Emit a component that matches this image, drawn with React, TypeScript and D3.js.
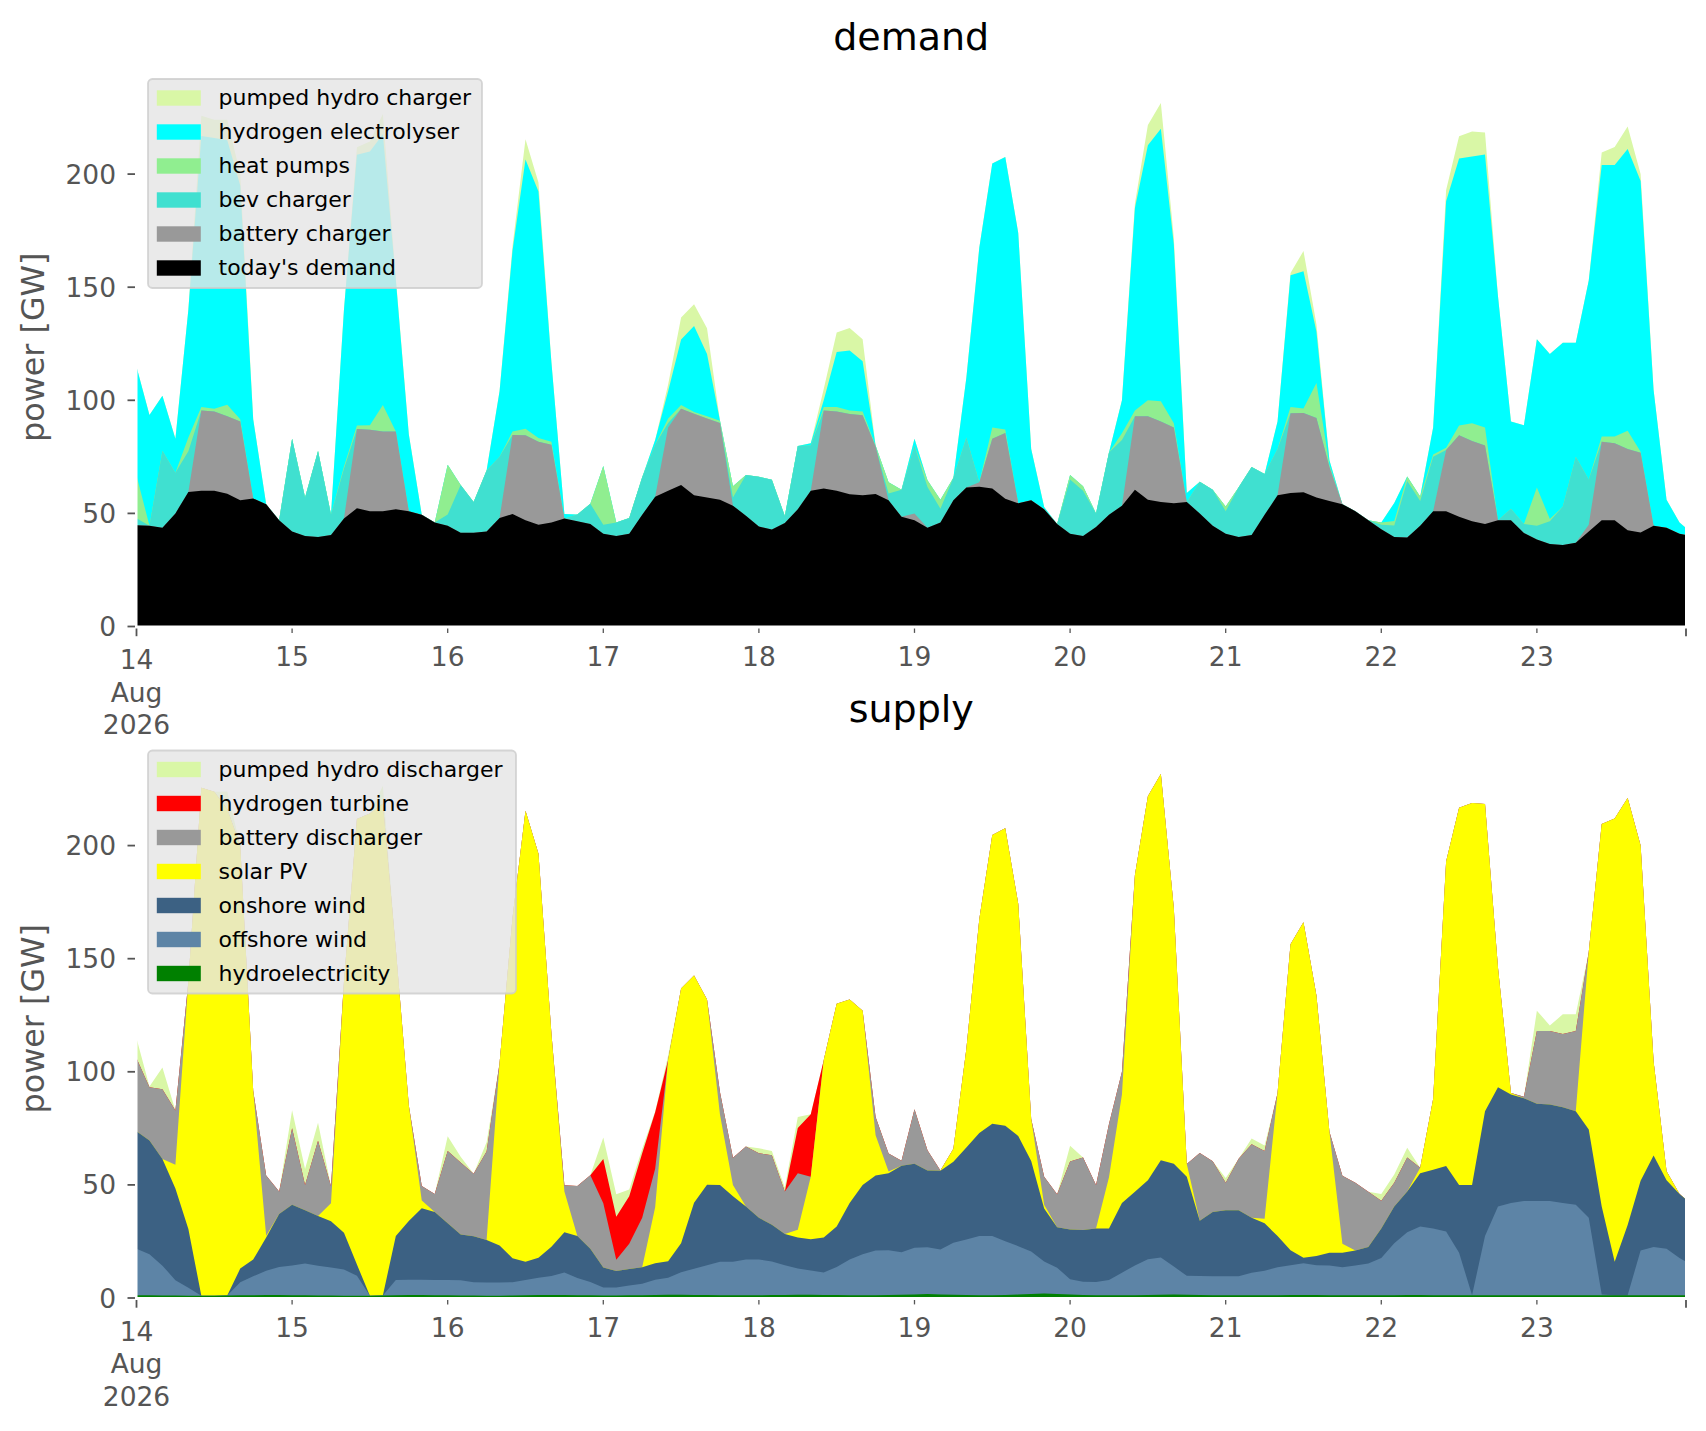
import React from 'react';
import * as d3 from 'd3';

// hourly time axis, read every 2 hours (plus the last hour)
const HOURS = [...d3.range(0, 240, 2), 239];
const DAY_TICKS = d3.range(0, 240, 24);
const DAY_LABELS = ['14', '15', '16', '17', '18', '19', '20', '21', '22', '23'];
const FIRST_TICK_EXTRA = ['Aug', '2026'];
const END_HOUR = 239;
const Y_TICKS = [0, 50, 100, 150, 200];

// ---- demand (GW) ----
const todaysDemand = [
  44.8, 44.5, 43.7, 50, 59.5, 60, 60, 58.7, 55.8, 56.6,
  54, 47, 42, 40, 39.6, 40.5, 47.7, 52.3, 51, 51,
  51.8, 51, 49.4, 46, 44.5, 41.5, 41.5, 42, 48, 49.7,
  47, 45, 46, 47.7, 46.5, 45.3, 41, 40, 41, 49.4,
  57.4, 60, 62.6, 58, 57, 56, 53.4, 49, 44.2, 42.9,
  45.8, 51.8, 60, 61, 60, 58.5, 58, 58.6, 55.8, 48.5,
  47, 43.7, 46, 55.8, 61.5, 61.8, 61, 56.5, 54.5, 55.8,
  51.8, 45.3, 41, 40, 44, 49.4, 53.4, 60.5, 56, 55,
  54.5, 55, 50, 44.5, 41, 39.6, 40.5, 49.4, 58, 59,
  59.4, 57, 55.5, 54, 51, 47, 43, 39.6, 39.3, 44.5,
  51, 51, 48.5, 46.5, 45.3, 47, 47, 41.3, 38.5, 36.5,
  36, 37, 42, 47, 47, 42.5, 41.6, 44.5, 43.7, 41,
  40.5,
];
const batteryCharger = [
  0, 0, 0, 0, 0, 35.5, 35, 34.3, 34.8, 0,
  0, 0, 0, 0, 0, 0, 0, 35, 36, 35.2,
  34.4, 0, 0, 0, 0, 0, 0, 0, 0, 35,
  37.6, 36.7, 34.4, 0, 0, 0, 0, 0, 0, 0,
  0, 28, 33.7, 36, 35, 34, 0, 0, 0, 0,
  0, 0, 0, 34.5, 35, 35.4, 35.4, 21, 0, 0,
  3, 0, 0, 0, 0, 2, 22, 29, 0, 0,
  0, 0, 0, 0, 0, 0, 0, 32.5, 37, 35.6,
  33.5, 0, 0, 0, 0, 0, 0, 0, 0, 35.3,
  35, 35.2, 15, 0, 0, 0, 0, 0, 0, 0,
  0, 27, 36, 35.5, 34.7, 0, 0, 0, 0, 0,
  0, 0, 3, 34.7, 34, 36, 35.2, 0, 0, 0,
  0,
];
const bevCharger = [
  3, 0, 34, 18, 18, 0, 0, 0, 0, 0,
  0, 0, 41, 17, 38, 9, 22, 0, 0, 0,
  0, 0, 0, 0, 5, 21, 13.5, 27, 27, 0,
  0, 0, 0, 0, 3, 9, 4, 6, 7, 16.6,
  23, 2, 0, 0, 0, 0, 3.6, 18, 22, 22,
  3, 28, 20, 0, 0, 0, 0, 0, 3, 12,
  30, 18, 6, 10, 22, 0, 0, 0, 0, 0,
  0, 0, 24, 20, 6, 27.5, 29, 0, 0, 0,
  0, 0, 14, 16, 10, 22, 30, 18, 20.5, 0,
  0, 0, 0, 0, 0, 0, 2, 5, 25, 11,
  24, 0, 0, 0, 0, 0, 5, 4, 6, 10,
  17, 38, 20, 0, 0, 0, 0, 0, 0, 0,
  0,
];
const heatPumps = [
  19, 0, 0, 0, 6, 1.5, 1.3, 5, 1, 0,
  0, 0, 0, 0, 0, 0, 1, 1.6, 2, 11.7,
  0, 0, 0, 0, 22, 0, 0, 0, 0, 1.5,
  2.8, 1.6, 1.3, 0, 0, 0, 26, 0, 0, 0,
  0, 2, 1.6, 0.8, 1, 1, 5, 0, 0, 0,
  0, 0, 0, 1.5, 2, 1.6, 1.6, 0.4, 5, 0,
  0, 3, 4, 0, 0, 0, 5, 1.6, 0, 0,
  0, 0, 2, 2, 0, 0, 3, 2.5, 7, 9,
  1.8, 0, 0, 0, 2, 0, 0, 0, 0, 2.7,
  2, 15.4, 1, 0, 0, 0, 1, 2, 2, 2,
  1, 1, 4.4, 7.8, 8, 0, 0, 0, 17, 1,
  0, 0, 0, 2.3, 3, 8, 0.5, 0, 0, 0,
  0,
];
const hydrogenElectrolyser = [
  48, 49, 24.3, 15, 56.5, 119.8, 119.7, 117, 103.4, 35,
  0, 0, 0, 0, 0, 0, 69.3, 119.7, 121, 119.7,
  67, 34, 0, 0, 0, 0, 0, 0, 29, 80,
  119, 109, 35, 2, 0, 0, 0, 0, 0, 0,
  2, 12, 29, 38, 27.5, 0, 0, 0, 0, 0,
  0, 0, 1, 3, 24.4, 26.5, 22.3, 0, 0, 0,
  3, 0, 0, 0, 26.5, 103.7, 116.7, 120.5, 119.5, 22.7,
  1, 0, 0, 0, 0, 0, 14.6, 89.5, 112.7, 120.4,
  79.2, 4, 0, 0, 0, 0, 0, 0, 12.1, 58.3,
  60.7, 22.7, 2, 0, 0, 0, 0, 8, 0, 0,
  12, 109, 118, 118, 120.7, 99, 38.6, 43.7, 65.5, 73,
  72.4, 50.4, 88, 120, 120, 124.6, 119.7, 60, 12.3, 5,
  3,
];
const pumpedHydroCharger = [
  0, 0, 0, 0, 0, 9, 8, 9, 5, 0,
  0, 0, 0, 0, 0, 0, 0, 3.3, 4.4, 9,
  1, 0, 0, 0, 0, 0, 0, 0, 0, 2,
  9, 4, 0, 0, 0, 0, 0, 0, 0, 0,
  0, 3, 9.7, 9.7, 11.4, 0, 0, 0, 0, 0,
  0, 0, 0, 5, 8.6, 10, 9.7, 0, 0, 0,
  0, 0, 0, 0, 0, 0, 0, 0, 0, 0,
  0, 0, 0, 0, 0, 0, 0, 2, 9, 11.4,
  3, 0, 0, 0, 0, 0, 0, 0, 0, 1,
  8.9, 3.2, 0, 0, 0, 0, 0, 0, 0, 0,
  0, 5, 9.8, 11, 9.7, 0, 0, 0, 0, 0,
  0, 0, 0, 5.5, 8, 9.9, 3, 0, 0, 0,
  0,
];

// ---- supply (GW) ----
const hydroelectricity = [
  1.2, 1.2, 1.1, 1.1, 1.0, 1.0, 1.0, 1.1, 1.2, 1.2,
  1.3, 1.3, 1.2, 1.2, 1.1, 1.1, 1.0, 1.0, 1.0, 1.1,
  1.2, 1.3, 1.3, 1.2, 1.2, 1.1, 1.1, 1.0, 1.0, 1.1,
  1.2, 1.3, 1.3, 1.3, 1.2, 1.2, 1.1, 1.1, 1.2, 1.2,
  1.3, 1.4, 1.4, 1.3, 1.3, 1.2, 1.2, 1.2, 1.2, 1.3,
  1.3, 1.4, 1.4, 1.3, 1.3, 1.2, 1.2, 1.2, 1.3, 1.4,
  1.6, 1.8, 1.6, 1.4, 1.3, 1.2, 1.2, 1.3, 1.5, 1.8,
  2.0, 1.8, 1.5, 1.3, 1.2, 1.2, 1.2, 1.2, 1.3, 1.4,
  1.5, 1.4, 1.3, 1.2, 1.2, 1.2, 1.2, 1.2, 1.2, 1.3,
  1.3, 1.3, 1.2, 1.2, 1.2, 1.2, 1.2, 1.2, 1.3, 1.3,
  1.2, 1.2, 1.2, 1.2, 1.2, 1.2, 1.2, 1.2, 1.2, 1.2,
  1.2, 1.2, 1.2, 1.2, 1.2, 1.2, 1.2, 1.2, 1.2, 1.2,
  1.2,
];
const offshoreWind = [
  20.6, 18.1, 13.2, 6.8, 3.5, 0, 0, 0, 5.8, 8.4,
  10.8, 12.4, 13.2, 14.1, 13.2, 12.4, 11.6, 8.8, 0, 0,
  6.8, 6.8, 6.8, 6.8, 6.8, 6.8, 5.9, 5.9, 5.9, 5.9,
  6.8, 7.6, 8.4, 10, 7.6, 5.9, 3.5, 3.5, 4.3, 5.1,
  6.8, 7.6, 10, 11.6, 13.2, 14.8, 14.8, 15.8, 15.8, 14.8,
  13.2, 11.6, 10.8, 10, 12.4, 15.8, 18.1, 19.8, 19.8, 18.8,
  20.6, 20.6, 19.8, 23, 24.6, 26.2, 26.2, 23.8, 21.4, 18.8,
  14.1, 11.6, 6.8, 5.9, 5.9, 6.8, 10, 13.2, 15.8, 16.5,
  12.4, 8.4, 8.4, 8.4, 8.4, 8.4, 10, 10.8, 12.4, 13.2,
  14.1, 13.2, 13.2, 12.4, 13.2, 14.1, 16.5, 23, 27.8, 30.3,
  29.5, 28.2, 18.8, 0, 26.2, 39.2, 40.8, 41.7, 41.7, 41.7,
  40.8, 40, 34.3, 0.3, 0, 0, 19.8, 21.4, 20.6, 16.5,
  14.8,
];
const onshoreWind = [
  51.9, 50.3, 47.1, 40.5, 26, 0, 0, 0, 6, 7.4,
  14.6, 23.4, 26.8, 23.5, 22, 20.4, 16.2, 5, 0, 0,
  19.4, 25.9, 31.6, 30, 25, 20.2, 20.3, 18.7, 16.3, 10.6,
  8, 8.9, 13, 17.8, 18.6, 14.7, 8.9, 7.3, 7.3, 7.3,
  7.3, 7.2, 12.8, 29.2, 35.6, 34, 29, 23.4, 18.5, 16.3,
  13.8, 13.8, 13.8, 15.4, 17.9, 25, 30.7, 33.2, 34, 38.3,
  37.2, 34, 34.8, 35.8, 40.6, 45.5, 49.6, 51, 48.7, 40,
  23.5, 17.9, 22, 22.9, 23.6, 22.7, 30.8, 32.6, 35, 43,
  45.4, 43.8, 24.4, 28.4, 29.2, 29.2, 24.3, 21, 13.8, 6.6,
  2.4, 4.1, 5.6, 6.4, 6.6, 7.3, 13, 16.2, 18, 23.5,
  26, 28.9, 30, 48.8, 55.2, 52.8, 48, 45.4, 43, 42.6,
  42.3, 41.4, 39, 38.9, 14.8, 31.1, 30.8, 40.4, 30.2, 28.3,
  27.5,
];
const solarPV = [
  0, 0, 0, 10.5, 109.3, 224.6, 222.8, 215, 187, 74.6,
  0.8, 0, 0, 0, 0, 8, 111, 196.9, 213.2, 217.4,
  126.8, 51.1, 3.4, 0, 0, 0, 0, 0, 80.6, 150.5,
  199.4, 178.6, 94.1, 18, 0, 0, 0, 0, 0, 0,
  24.7, 89, 112.6, 100.5, 81.9, 31, 5, 0, 0, 0,
  0, 3.4, 27.6, 78.4, 98.5, 90, 77, 17.8, 0.8, 0,
  0, 0, 0, 5.8, 43.6, 94.6, 127.7, 131.6, 102.7, 18.5,
  1.6, 0, 0, 0, 0, 22.7, 48, 140, 169.7, 170.7,
  113, 5.6, 0, 0, 0, 0, 0, 2, 63.2, 135.3,
  148.3, 115, 53.5, 4, 0, 0, 0, 0, 0, 2.5,
  31.3, 134.7, 166.7, 168.8, 135.8, 52.8, 0.6, 0, 0, 0,
  0, 0, 78.5, 169.1, 196, 188.7, 148.2, 41.5, 4, 0,
  0,
];
const batteryDischarger = [
  32.3, 23.6, 30.9, 24, 0, 0, 0, 0, 0, 0,
  26.6, 10, 33.8, 11.2, 33.2, 7.5, 0, 0, 0, 0,
  0, 0, 6.4, 8, 32, 31.8, 27.6, 39.2, 0, 0,
  0, 0, 0, 2.7, 22.1, 32.5, 28.4, 5, 11.2, 21.9,
  17, 0, 0, 0, 0, 10, 12, 26.6, 28.5, 30.7,
  18.8, 25, 0, 0, 0, 0, 0, 8, 8, 2.2,
  24, 8.9, 0.2, 0, 0, 0, 0, 0, 0, 0,
  12.4, 14.6, 30, 32, 19.3, 23.5, 10, 0, 0, 0,
  0, 0, 30, 22.5, 12.2, 22.8, 32.5, 30, 0, 0,
  0, 0, 0, 30, 30, 24.4, 12.3, 10.6, 15, 0,
  0, 0, 0, 0, 0, 0, 0, 0.7, 32.1, 32.5,
  32.4, 35.4, 0, 0, 0, 0, 0, 0, 0, 0,
  0,
];
const hydrogenTurbine = [
  0, 0, 0, 0, 0, 0, 0, 0, 0, 0,
  0, 0, 0, 0, 0, 0, 0, 0, 0, 0,
  0, 0, 0, 0, 0, 0, 0, 0, 0, 0,
  0, 0, 0, 0, 0, 0, 19.5, 19, 21, 28.5,
  25, 0, 0, 0, 0, 0, 0, 0, 0, 0,
  0, 20, 27.6, 0, 0, 0, 0, 0, 0, 0,
  0, 0, 0, 0, 0, 0, 0, 0, 0, 0,
  0, 0, 0, 0, 0, 0, 0, 0, 0, 0,
  0, 0, 0, 0, 0, 0, 0, 0, 0, 0,
  0, 0, 0, 0, 0, 0, 0, 0, 0, 0,
  0, 0, 0, 0, 0, 0, 0, 0, 0, 0,
  0, 0, 0, 0, 0, 0, 0, 0, 0, 0,
  0,
];
const pumpedHydroDischarger = [
  8.8, 0.3, 9.6, 0, 0, 0, 0, 7.8, 0, 0,
  0, 0, 8, 7, 8, 0, 0, 0, 0, 8,
  0, 0, 0, 0, 6.5, 2.5, 0, 4, 0, 0,
  0, 0, 0, 0, 0, 0, 9.5, 10, 3, 2,
  0.4, 2, 0, 0, 0, 0, 0, 0, 2.2, 1.9,
  1.8, 4.8, 0, 0, 0, 0, 0, 0, 0, 0,
  0, 0, 0, 0, 0, 0, 0, 0, 0, 0,
  0, 0, 7, 0, 0, 0, 0, 0, 0, 0,
  0, 0, 0, 0, 2, 0, 2.5, 2.4, 0, 0,
  0, 0, 0, 0, 0, 0, 3, 3.6, 4.3, 0,
  0, 0, 0, 0, 0, 0, 0, 0, 9, 2.5,
  8.7, 7.4, 0, 0, 0, 0, 0, 0, 0, 0,
  0,
];

type Series = { key: string; label: string; color: string; values: number[] };

// stacking order: bottom first
const DEMAND: Series[] = [
  { key: 'today', label: "today's demand", color: '#000000', values: todaysDemand },
  { key: 'batt', label: 'battery charger', color: '#999999', values: batteryCharger },
  { key: 'bev', label: 'bev charger', color: '#40e0d0', values: bevCharger },
  { key: 'heat', label: 'heat pumps', color: '#90ee90', values: heatPumps },
  { key: 'h2', label: 'hydrogen electrolyser', color: '#00ffff', values: hydrogenElectrolyser },
  { key: 'phc', label: 'pumped hydro charger', color: '#d9f7a6', values: pumpedHydroCharger },
];
const SUPPLY: Series[] = [
  { key: 'hydro', label: 'hydroelectricity', color: '#008000', values: hydroelectricity },
  { key: 'off', label: 'offshore wind', color: '#5d84a6', values: offshoreWind },
  { key: 'on', label: 'onshore wind', color: '#3c6183', values: onshoreWind },
  { key: 'pv', label: 'solar PV', color: '#ffff00', values: solarPV },
  { key: 'batt', label: 'battery discharger', color: '#999999', values: batteryDischarger },
  { key: 'h2t', label: 'hydrogen turbine', color: '#ff0000', values: hydrogenTurbine },
  { key: 'phd', label: 'pumped hydro discharger', color: '#d9f7a6', values: pumpedHydroDischarger },
];

const W = 1706;
const H = 1431;
const PLOT_L = 136.5;
const PLOT_R = 1686;
const PLOT_H = 558.5;
const Y_MAX = 246.9;
const FONT = "'DejaVu Sans', sans-serif";
const TICK_COLOR = '#555555';

const x = d3.scaleLinear().domain([0, END_HOUR]).range([PLOT_L, PLOT_R]);

function Panel({ title, top, series, legendW }: { title: string; top: number; series: Series[]; legendW: number }) {
  const bottom = top + PLOT_H;
  const y = d3.scaleLinear().domain([0, Y_MAX]).range([bottom, top]);

  const rows = HOURS.map((h, i) => {
    const r: Record<string, number> = { h };
    series.forEach(s => (r[s.key] = s.values[i]));
    return r;
  });
  const stacked = d3.stack<Record<string, number>>().keys(series.map(s => s.key))(rows);
  // each layer drawn from the baseline to its own top, topmost first, so no seams
  const area = d3
    .area<d3.SeriesPoint<Record<string, number>>>()
    .x(d => x(d.data.h))
    .y0(() => y(0))
    .y1(d => y(d[1]));

  const legendItems = [...series].reverse();
  const lx = PLOT_L + 11.5;
  const ly = top + 11;
  const rowGap = 34;
  const legendH = legendItems.length * rowGap + 5;
  const midY = (top + bottom) / 2;

  return (
    <g>
      <text x={(PLOT_L + PLOT_R) / 2} y={top - 18} textAnchor="middle" fontSize={38} fill="#000">
        {title}
      </text>
      <g>
        {[...stacked].reverse().map((layer, i) => (
          <path key={layer.key} d={area(layer) || ''} fill={series[series.length - 1 - i].color} />
        ))}
      </g>
      <rect x={PLOT_L} y={top} width={PLOT_R - PLOT_L} height={PLOT_H} fill="none" stroke="#ffffff" strokeWidth={2} />

      {/* y axis */}
      {Y_TICKS.map(t => (
        <g key={t}>
          <line x1={PLOT_L - 9} x2={PLOT_L - 1.5} y1={y(t)} y2={y(t)} stroke={TICK_COLOR} strokeWidth={1.8} />
          <text x={116} y={y(t)} dy="0.36em" textAnchor="end" fontSize={26.5} fill={TICK_COLOR}>
            {t}
          </text>
        </g>
      ))}
      <text transform={`translate(44, ${midY}) rotate(-90)`} textAnchor="middle" fontSize={31.8} fill={TICK_COLOR}>
        power [GW]
      </text>

      {/* x axis: major tick at the start, minor ticks at each day */}
      {DAY_TICKS.map((h, i) => {
        const major = i === 0;
        const len = major ? 7.7 : 4.4;
        const base = bottom + (major ? 42.5 : 39);
        return (
          <g key={h}>
            <line
              x1={x(h)}
              x2={x(h)}
              y1={bottom + 2}
              y2={bottom + 2 + len}
              stroke={TICK_COLOR}
              strokeWidth={major ? 1.8 : 1.3}
            />
            <text x={x(h)} y={base} textAnchor="middle" fontSize={26.5} fill={TICK_COLOR}>
              {DAY_LABELS[i]}
            </text>
            {major &&
              FIRST_TICK_EXTRA.map((s, j) => (
                <text key={s} x={x(h)} y={base + 32.5 * (j + 1)} textAnchor="middle" fontSize={26.5} fill={TICK_COLOR}>
                  {s}
                </text>
              ))}
          </g>
        );
      })}
      <line x1={x(END_HOUR)} x2={x(END_HOUR)} y1={bottom + 2} y2={bottom + 9.7} stroke={TICK_COLOR} strokeWidth={1.8} />

      {/* legend */}
      <rect
        x={lx}
        y={ly}
        width={legendW}
        height={legendH}
        rx={4.4}
        fill="#e5e5e5"
        fillOpacity={0.8}
        stroke="#cccccc"
        strokeOpacity={0.8}
        strokeWidth={1.8}
      />
      {legendItems.map((s, i) => {
        const cy = ly + 19 + i * rowGap;
        return (
          <g key={s.key}>
            <rect x={lx + 8.8} y={cy - 7.7} width={44} height={15.4} fill={s.color} />
            <text x={lx + 70.5} y={cy} dy="0.34em" fontSize={22} fill="#000">
              {s.label}
            </text>
          </g>
        );
      })}
    </g>
  );
}

export default function App() {
  return (
    <div style={{ width: W, height: H }}>
      <style>{'body{margin:0}'}</style>
      <svg width={W} height={H} viewBox={`0 0 ${W} ${H}`} style={{ display: 'block', fontFamily: FONT }}>
        <rect width={W} height={H} fill="#ffffff" />
        <Panel title="demand" top={68} series={DEMAND} legendW={334} />
        <Panel title="supply" top={739.5} series={SUPPLY} legendW={368} />
      </svg>
    </div>
  );
}
